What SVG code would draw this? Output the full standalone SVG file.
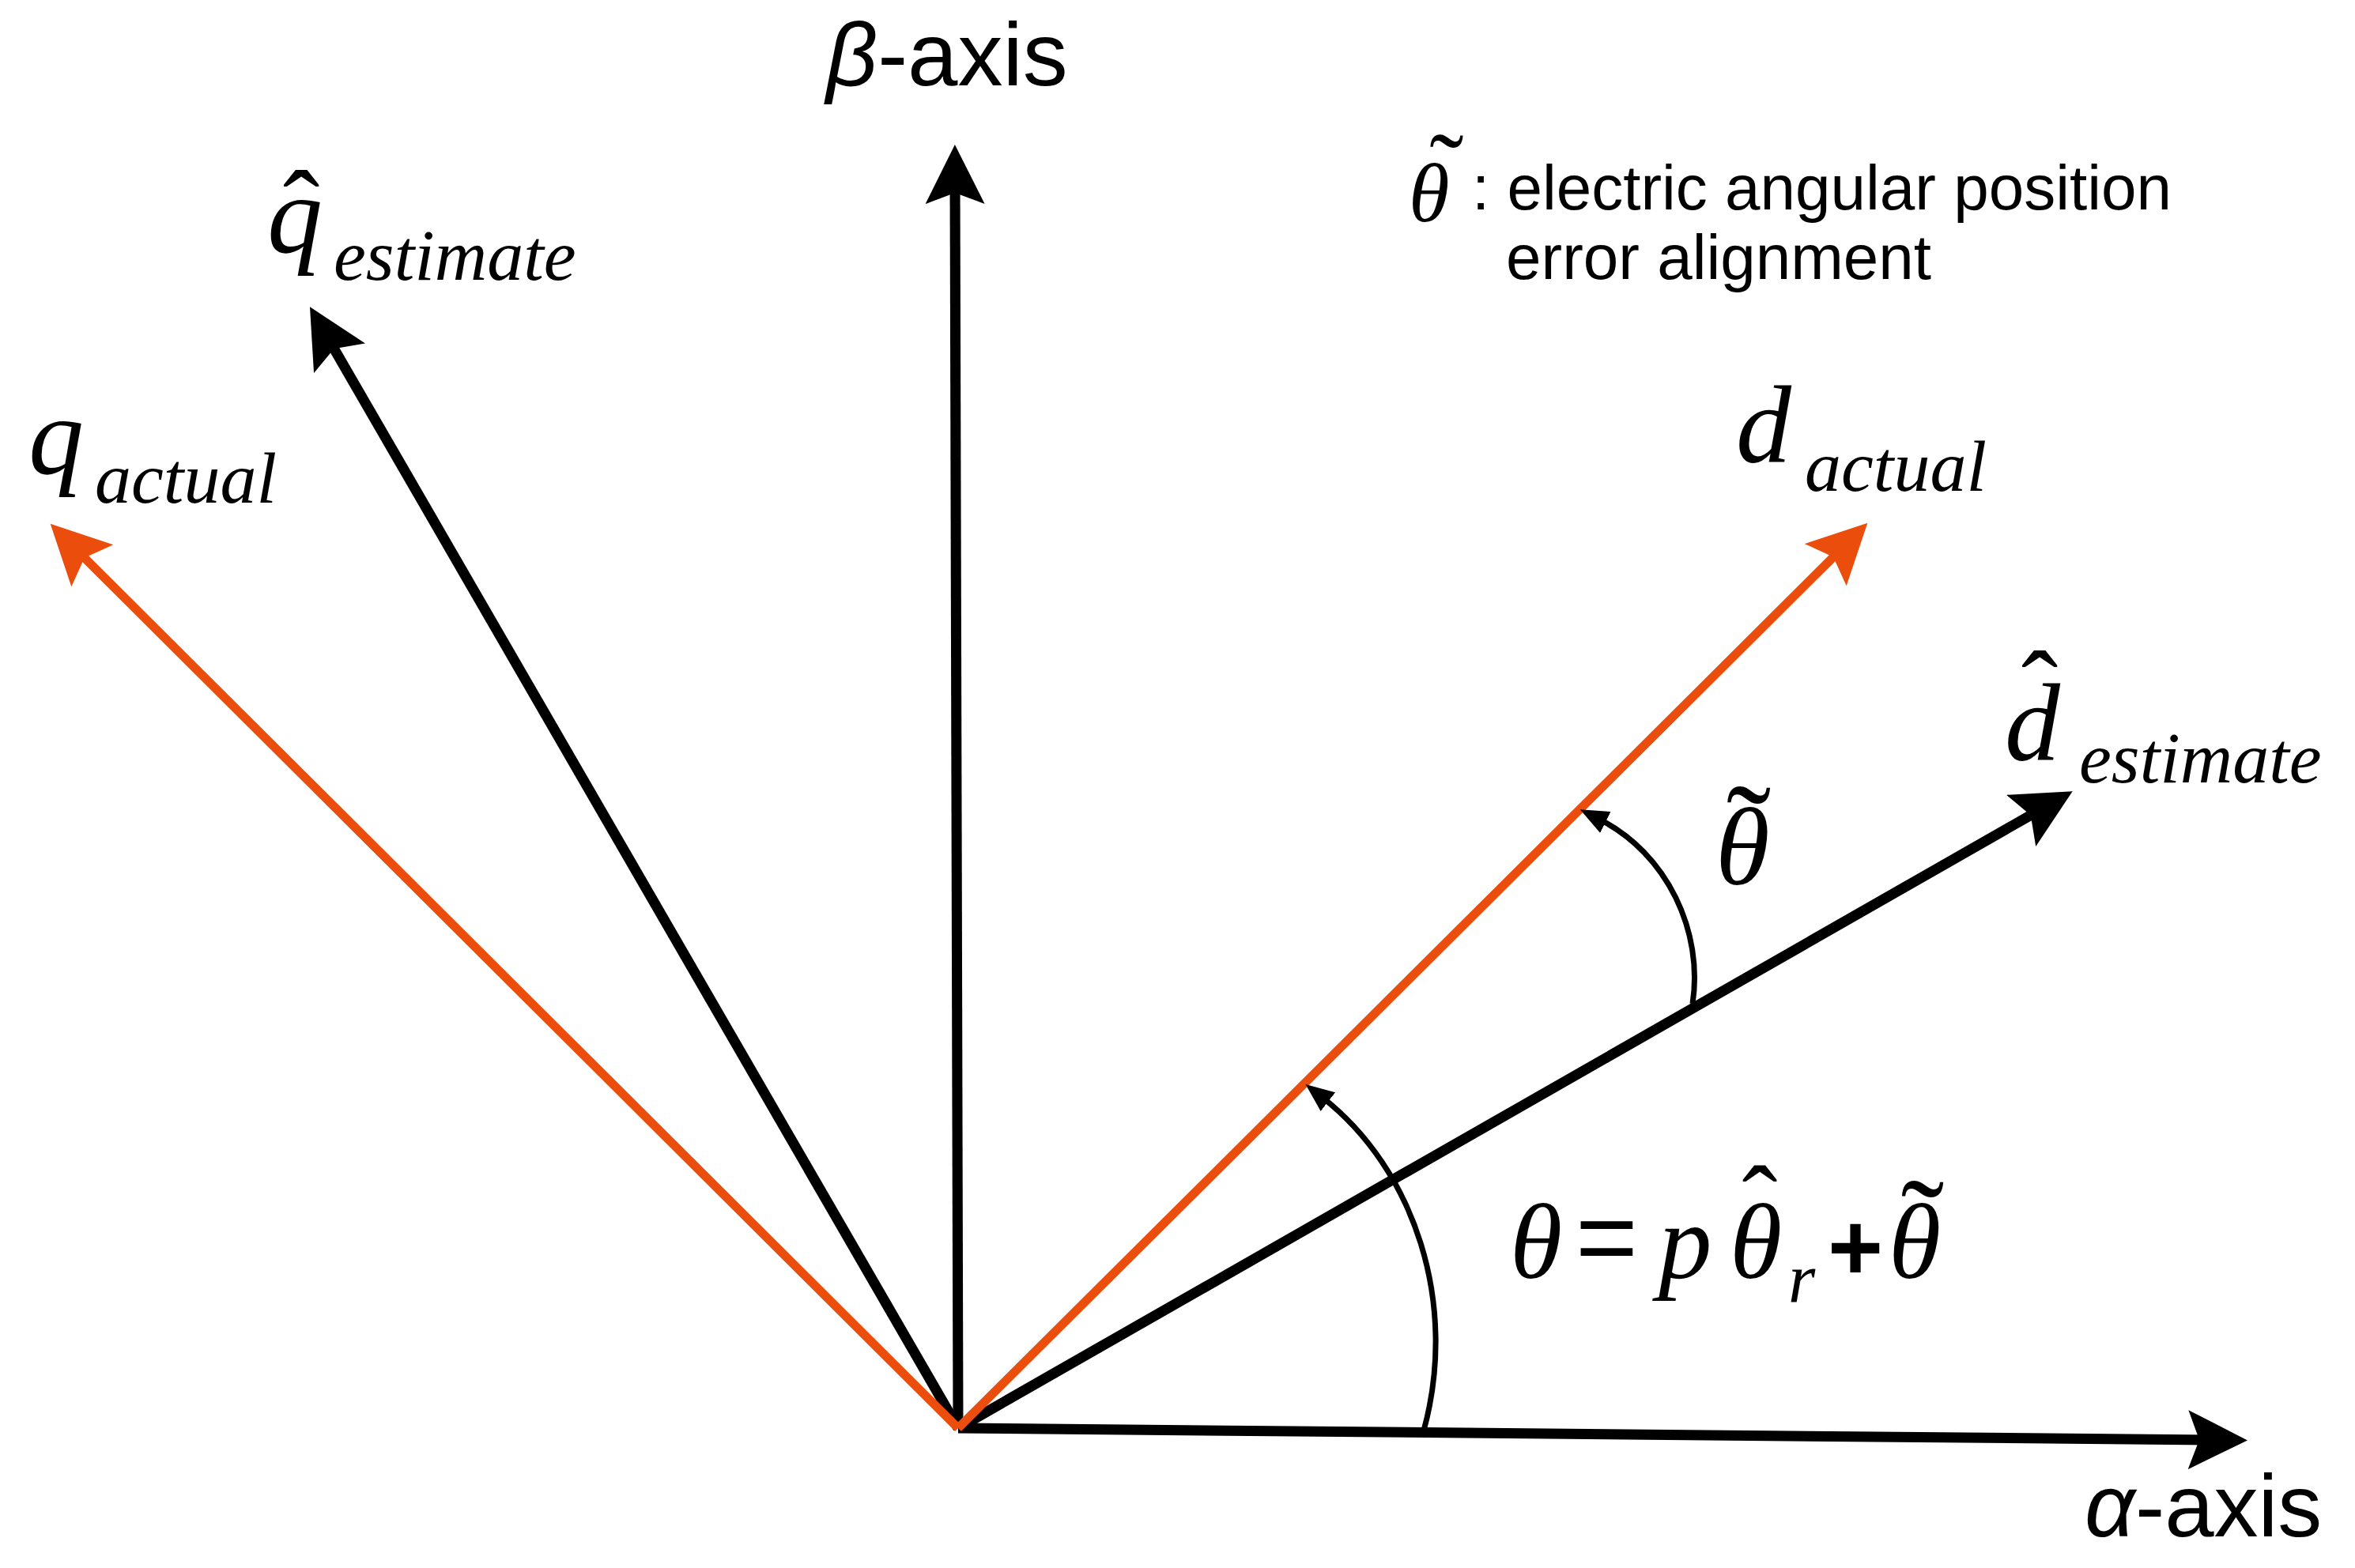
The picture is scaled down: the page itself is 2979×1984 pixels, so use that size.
<svg xmlns="http://www.w3.org/2000/svg" width="2979" height="1984" viewBox="0 0 2979 1984">
<style>
.bk{stroke:#000;stroke-width:13;fill:none}
.or{stroke:#EA4D0C;stroke-width:11;fill:none}
.arc{stroke:#000;stroke-width:7;fill:none}
.sans{font-family:"Liberation Sans",Arial,sans-serif}
.ser{font-family:"Liberation Serif","Times New Roman",serif;font-style:italic}
.acc{font-family:"Liberation Serif","Times New Roman",serif}
</style>
<defs>
<marker id="ab" markerUnits="userSpaceOnUse" markerWidth="80" markerHeight="80" refX="35" refY="37.5" orient="auto"><path d="M0,0 L75,37.5 L0,75 L14,37.5 z" fill="#000"/></marker>
<marker id="ao" markerUnits="userSpaceOnUse" markerWidth="80" markerHeight="80" refX="35" refY="37.5" orient="auto"><path d="M0,0 L75,37.5 L0,75 L14,37.5 z" fill="#EA4D0C"/></marker>
<marker id="as" markerUnits="userSpaceOnUse" markerWidth="40" markerHeight="40" refX="10" refY="15" orient="auto"><path d="M0,0 L36,15 L0,30 z" fill="#000"/></marker>
</defs>
<rect width="2979" height="1984" fill="#fff"/>
<g id="connectors">
<line class="bk" x1="1212" y1="1807" x2="1208" y2="223" marker-end="url(#ab)"/>
<line class="bk" x1="1212" y1="1807" x2="2803" y2="1822" marker-end="url(#ab)"/>
<line class="bk" x1="1212" y1="1807" x2="2587" y2="1021" marker-end="url(#ab)"/>
<line class="bk" x1="1212" y1="1807" x2="412" y2="423" marker-end="url(#ab)"/>
<line class="or" x1="1212" y1="1807" x2="2334" y2="690" marker-end="url(#ao)"/>
<line class="or" x1="1212" y1="1807" x2="92" y2="691" marker-end="url(#ao)"/>
<path class="arc" d="M1801 1810 C1845 1650 1790 1480 1672 1388" marker-end="url(#as)"/>
<path class="arc" d="M2141 1270 C2155 1180 2110 1080 2022 1036" marker-end="url(#as)"/>
</g>
<g id="beta-axis"><text class="sans" x="1045" y="108" font-size="114"><tspan font-style="italic">β</tspan>-axis</text></g>
<g id="alpha-axis"><text class="sans" x="2637" y="1944" font-size="112"><tspan font-style="italic">α</tspan>-axis</text></g>
<g id="legend">
<text class="ser" x="1782" y="280" font-size="105">θ</text>
<text class="acc" x="1830" y="258" font-size="130" text-anchor="middle">˜</text>
<text class="sans" x="1862" y="265" font-size="80">: electric angular position</text>
<text class="sans" x="1905" y="353" font-size="80">error alignment</text>
</g>
<g id="q-estimate">
<text class="ser" x="338" y="319" font-size="140">q</text>
<text class="acc" x="381" y="313" font-size="140" text-anchor="middle">ˆ</text>
<text class="ser" x="422" y="354" font-size="92">estimate</text>
</g>
<g id="q-actual">
<text class="ser" x="36" y="599" font-size="140">q</text>
<text class="ser" x="120" y="636" font-size="92">actual</text>
</g>
<g id="d-actual">
<text class="ser" x="2196" y="585" font-size="140">d</text>
<text class="ser" x="2283" y="621" font-size="92">actual</text>
</g>
<g id="d-estimate">
<text class="ser" x="2536" y="962" font-size="140">d</text>
<text class="acc" x="2580" y="921" font-size="140" text-anchor="middle">ˆ</text>
<text class="ser" x="2630" y="990" font-size="92">estimate</text>
</g>
<g id="theta-tilde">
<text class="ser" x="2170" y="1119" font-size="140">θ</text>
<text class="acc" x="2212" y="1110" font-size="170" text-anchor="middle">˜</text>
</g>
<g id="equation">
<text class="ser" x="1910" y="1617" font-size="135">θ</text>
<text class="sans" x="1993" y="1612" font-size="135">=</text>
<text class="ser" x="2098" y="1617" font-size="135">p</text>
<text class="ser" x="2188" y="1617" font-size="135">θ</text>
<text class="acc" x="2226" y="1569" font-size="135" text-anchor="middle">ˆ</text>
<text class="ser" x="2262" y="1647" font-size="88">r</text>
<text class="sans" x="2312" y="1620" font-size="120" font-weight="bold">+</text>
<text class="ser" x="2389" y="1617" font-size="135">θ</text>
<text class="acc" x="2432" y="1605" font-size="165" text-anchor="middle">˜</text>
</g>
</svg>
